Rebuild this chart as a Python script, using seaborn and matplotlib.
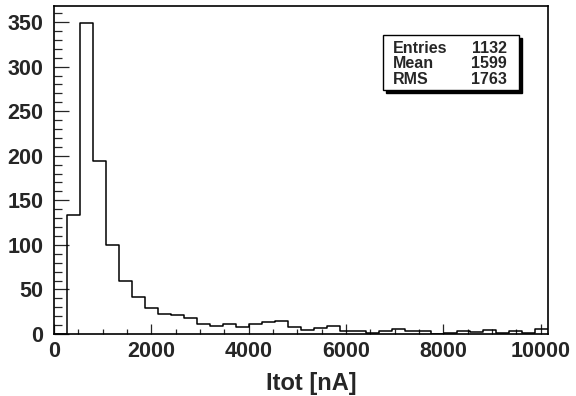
import numpy as np
import pandas as pd
import seaborn as sns
import matplotlib.pyplot as plt
from matplotlib.patches import Rectangle
from matplotlib.ticker import MultipleLocator

# histogram contents, 38 bins from 0 to 10150
x_min = 0
x_max = 10150
n_bins = 38
counts = [0, 133, 349, 194, 100, 59, 41, 29, 22, 21,
          18, 11, 9, 11, 8, 11, 13, 15, 8, 4,
          7, 9, 3, 3, 1, 3, 6, 3, 3, 0,
          1, 3, 2, 5, 1, 3, 1, 6]
stat_names = ["Entries", "Mean", "RMS"]
stat_values = ["1132", "1599", "1763"]
x_title = "Itot [nA]"

width = (x_max - x_min) / n_bins
centers = x_min + width * (np.arange(n_bins) + 0.5)
df = pd.DataFrame({"Itot": centers, "n": counts})

sns.set_style("ticks")
plt.rcParams['font.family'] = ['Liberation Sans', 'DejaVu Sans']
plt.rcParams['font.weight'] = 'bold'

fig = plt.figure(figsize=(5.76, 3.96), dpi=100)
ax = fig.add_axes([54/576, 1-334/396, 494/576, 328/396])

sns.histplot(data=df, x="Itot", weights="n", binwidth=width, binrange=(x_min, x_max),
             element="step", fill=False, color="black", linewidth=1.1, ax=ax)

ax.set_xlim(x_min, x_max)
ax.set_ylim(0, 368)
ax.xaxis.set_major_locator(MultipleLocator(2000))
ax.xaxis.set_minor_locator(MultipleLocator(500))
ax.yaxis.set_major_locator(MultipleLocator(50))
ax.yaxis.set_minor_locator(MultipleLocator(10))
ax.tick_params(axis="x", which="major", direction="in", length=7.2, width=0.9,
               labelsize=15.5, pad=5)
ax.tick_params(axis="x", which="minor", direction="in", length=3.6, width=0.9)
ax.tick_params(axis="y", which="major", direction="in", length=10.8, width=0.9,
               labelsize=15.5, pad=7.5)
ax.tick_params(axis="y", which="minor", direction="in", length=5.4, width=0.9)
for lab in ax.get_xticklabels() + ax.get_yticklabels():
    lab.set_fontweight("bold")
for s in ax.spines.values():
    s.set_visible(True)
    s.set_linewidth(1.2)
    s.set_color("black")

ax.set_ylabel("")
ax.set_xlabel(x_title, fontsize=17, fontweight="bold", labelpad=8)
ax.xaxis.set_label_coords(0.52, -0.115)

# stats box with shadow
bx, by, bw, bh = 383/576, 1-90/396, 136/576, 55/396
fig.add_artist(Rectangle((bx + 3/576, by - 3/396), bw, bh, transform=fig.transFigure,
                         facecolor="black", edgecolor="black", lw=1))
fig.add_artist(Rectangle((bx, by), bw, bh, transform=fig.transFigure,
                         facecolor="white", edgecolor="black", lw=1))
rows_y = [1-48.3/396, 1-63.8/396, 1-80/396]
for name, val, yy in zip(stat_names, stat_values, rows_y):
    fig.text(393/576, yy, name, ha="left", va="center", fontsize=11.5, fontweight="bold")
    fig.text(507/576, yy, val, ha="right", va="center", fontsize=11.5, fontweight="bold")

fig.savefig("out.png", dpi=100)
